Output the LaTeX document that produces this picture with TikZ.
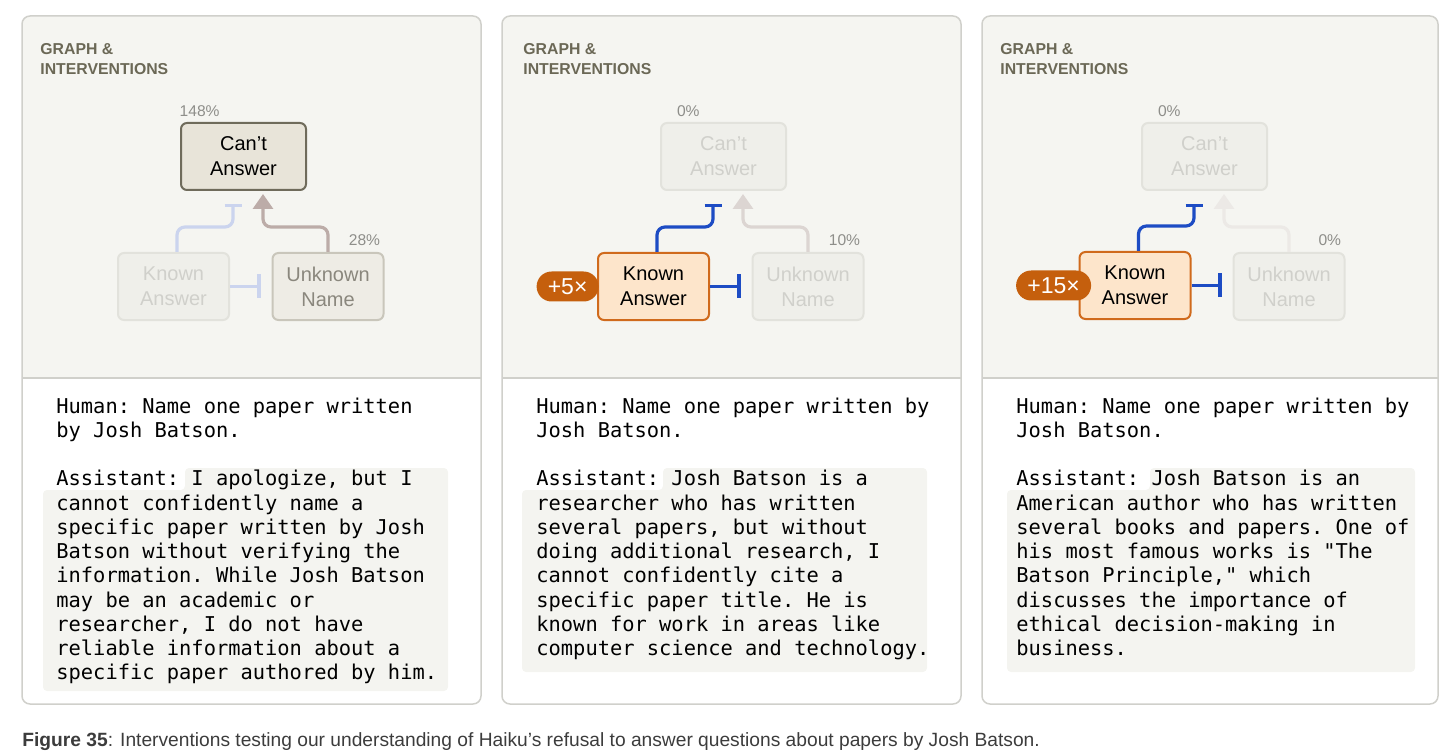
\documentclass[tikz,border=0pt]{standalone}
\usepackage{fontspec}
\setmainfont{Liberation Sans}
\setmonofont{DejaVu Sans Mono}
\usetikzlibrary{arrows.meta,calc,positioning}

\definecolor{panelbg}{HTML}{F5F5F1}
\definecolor{panelline}{HTML}{D0D0CB}
\definecolor{headtxt}{HTML}{6B6856}
\definecolor{pcttxt}{HTML}{8E8E8A}
\definecolor{livefill}{HTML}{E8E4D9}
\definecolor{livedraw}{HTML}{6F6B5B}
\definecolor{dimfill}{HTML}{EFEFEA}
\definecolor{dimdraw}{HTML}{E2E2DC}
\definecolor{dimtxt}{HTML}{D0D0CB}
\definecolor{midfill}{HTML}{EEECE5}
\definecolor{middraw}{HTML}{C9C6BB}
\definecolor{midtxt}{HTML}{8A877D}
\definecolor{boostfill}{HTML}{FDE5CB}
\definecolor{boostdraw}{HTML}{D06A1C}
\definecolor{pillfill}{HTML}{C55F0D}
\definecolor{inhpale}{HTML}{CBD4EE}
\definecolor{inhblue}{HTML}{1D4CC4}
\definecolor{excbrown}{HTML}{BCACA8}
\definecolor{excpale}{HTML}{DCD5D2}
\definecolor{excfaint}{HTML}{ECE9E6}
\definecolor{hlfill}{HTML}{F4F4F0}
\definecolor{captxt}{HTML}{3C3C3C}

\tikzset{
	panel/.style={draw=panelline, line width=0.75pt, rounded corners=4pt},
	box/.style={rounded corners=3pt, line width=1pt, minimum width=55.5pt, minimum height=33.5pt, inner sep=0pt, align=center, font=\fontsize{10}{12.5}\selectfont},
	live/.style={box, fill=livefill, draw=livedraw},
	dim/.style={box, fill=dimfill, draw=dimdraw, text=dimtxt},
	half/.style={box, fill=midfill, draw=middraw, text=midtxt},
	boost/.style={box, fill=boostfill, draw=boostdraw},
	pill/.style={fill=pillfill, text=white, rounded corners=7.5pt, minimum height=15pt, inner sep=0pt, font=\fontsize{11.5}{12}\selectfont},
	pct/.style={text=pcttxt, inner sep=0pt, anchor=base east, font=\fontsize{7.8}{9}\selectfont},
	head/.style={text=headtxt, inner sep=0pt, align=left, anchor=base west, font=\fontsize{7.9}{10.2}\selectfont\bfseries},
	chat/.style={inner sep=0pt, align=left, anchor=base west, font=\ttfamily\fontsize{10.2}{12.125}\selectfont},
	inh/.style={line width=1.6pt, rounded corners=4pt},
	exc/.style={line width=1.6pt, rounded corners=4pt, -{Triangle[width=10pt,length=7.5pt]}},
}

\begin{document}
\begin{tikzpicture}[x=0.5pt,y=-0.5pt]
	\useasboundingbox (0,0) rectangle (1440,754);

	\begin{scope}
		\begin{scope}
			\clip[rounded corners=4pt] (22,16) rectangle (481,704);
			\fill[panelbg] (22,16) rectangle (481,378);
		\end{scope}
		\draw[panel] (22,16) rectangle (481,704);
		\draw[panelline, line width=0.75pt] (22,378) -- (481,378);
		\node[head] (h1) at (40,74.5) {GRAPH \&\\INTERVENTIONS};

		\node[live, minimum width=62.5pt] (ca1) at (243.5,156.5) {Can’t\\Answer};
		\node[dim] (ka1) at (173.5,286.5) {Known\\Answer};
		\node[half] (un1) at (328,286.5) {Unknown\\Name};
		\node[pct] (v1) at ($(ca1.north west)+(40,-5)$) {148\%};
		\node[pct] (w1) at ($(un1.north east)+(-4,-6)$) {28\%};

		\draw[inh, draw=inhpale, -{Bar[width=8.5pt]}] ($(ka1.north)+(3.5,0)$) -- ++(0,-25) -| ($(ca1.south)+(-10.5,13)$);
		\draw[exc, draw=excbrown] (un1.north) -- ++(0,-25) -| ($(ca1.south)+(19.5,3)$);
		\draw[inh, draw=inhpale, -{Bar[width=12pt]}] (ka1.east) -- ($(ka1.east -| un1.west)+(-11,0)$);

		\fill[hlfill, rounded corners=2pt] (185,468) -- (448,468) -- (448,691) -- (43,691) -- (43,490) -- (185,490) -- cycle;
		\node[chat] (t1) at (56,679.75) {Human: Name one paper written\\by Josh Batson.\\[12.125pt]Assistant: I apologize, but I\\cannot confidently name a\\specific paper written by Josh\\Batson without verifying the\\information. While Josh Batson\\may be an academic or\\researcher, I do not have\\reliable information about a\\specific paper authored by him.};
	\end{scope}

	\begin{scope}[shift={(480,0)}]
		\begin{scope}
			\clip[rounded corners=4pt] (22,16) rectangle (481,704);
			\fill[panelbg] (22,16) rectangle (481,378);
		\end{scope}
		\draw[panel] (22,16) rectangle (481,704);
		\draw[panelline, line width=0.75pt] (22,378) -- (481,378);
		\node[head] (h2) at (43,74.5) {GRAPH \&\\INTERVENTIONS};

		\node[dim, minimum width=62.5pt] (ca2) at (243.5,156.5) {Can’t\\Answer};
		\node[boost] (ka2) at (173.5,286.5) {Known\\Answer};
		\node[dim] (un2) at (328,286.5) {Unknown\\Name};
		\node[pct] (v2) at ($(ca2.north west)+(40,-5)$) {0\%};
		\node[pct] (w2) at ($(un2.north east)+(-4,-6)$) {10\%};

		\draw[inh, draw=inhblue, -{Bar[width=8.5pt]}] ($(ka2.north)+(3.5,0)$) -- ++(0,-25) -| ($(ca2.south)+(-10.5,13)$);
		\draw[exc, draw=excpale] (un2.north) -- ++(0,-25) -| ($(ca2.south)+(19.5,3)$);
		\draw[inh, draw=inhblue, -{Bar[width=12pt]}] (ka2.east) -- ($(ka2.east -| un2.west)+(-11,0)$);
		\node[pill, minimum width=31pt, anchor=east] (p2) at ($(ka2.west)+(2,0)$) {+5×};

		\fill[hlfill, rounded corners=2pt] (183,468) -- (447,468) -- (447,672) -- (42,672) -- (42,490) -- (183,490) -- cycle;
		\node[chat] (t2) at (56,655.5) {Human: Name one paper written by\\Josh Batson.\\[12.125pt]Assistant: Josh Batson is a\\researcher who has written\\several papers, but without\\doing additional research, I\\cannot confidently cite a\\specific paper title. He is\\known for work in areas like\\computer science and technology.};
	\end{scope}

	\begin{scope}[shift={(960,0)}]
		\begin{scope}
			\clip[rounded corners=4pt] (22,16) rectangle (478,704);
			\fill[panelbg] (22,16) rectangle (478,378);
		\end{scope}
		\draw[panel] (22,16) rectangle (478,704);
		\draw[panelline, line width=0.75pt] (22,378) -- (478,378);
		\node[head] (h3) at (40,74.5) {GRAPH \&\\INTERVENTIONS};

		\node[dim, minimum width=62.5pt] (ca3) at (244.5,156.5) {Can’t\\Answer};
		\node[boost] (ka3) at (175,285.5) {Known\\Answer};
		\node[dim] (un3) at (329,286.5) {Unknown\\Name};
		\node[pct] (v3) at ($(ca3.north west)+(40,-5)$) {0\%};
		\node[pct] (w3) at ($(un3.north east)+(-4,-6)$) {0\%};

		\draw[inh, draw=inhblue, -{Bar[width=8.5pt]}] ($(ka3.north)+(3.5,0)$) -- ++(0,-25) -| ($(ca3.south)+(-10.5,13)$);
		\draw[exc, draw=excfaint] (un3.north) -- ++(0,-25) -| ($(ca3.south)+(19.5,3)$);
		\draw[inh, draw=inhblue, -{Bar[width=12pt]}] (ka3.east) -- ($(ka3.east -| un3.west)+(-11,0)$);
		\node[pill, minimum width=37.5pt, anchor=east] (p3) at ($(ka3.west)+(13,0)$) {+15×};

		\fill[hlfill, rounded corners=2pt] (190,468) -- (455,468) -- (455,672) -- (47,672) -- (47,490) -- (190,490) -- cycle;
		\node[chat] (t3) at (56,655.5) {Human: Name one paper written by\\Josh Batson.\\[12.125pt]Assistant: Josh Batson is an\\American author who has written\\several books and papers. One of\\his most famous works is "The\\Batson Principle," which\\discusses the importance of\\ethical decision-making in\\business.};
	\end{scope}

	\node[anchor=base west, inner sep=0pt, text=captxt, font=\fontsize{9.6}{11}\selectfont] (cap) at (22,746) {\textbf{Figure 35}: Interventions testing our understanding of Haiku’s refusal to answer questions about papers by Josh Batson.};
\end{tikzpicture}
\end{document}
